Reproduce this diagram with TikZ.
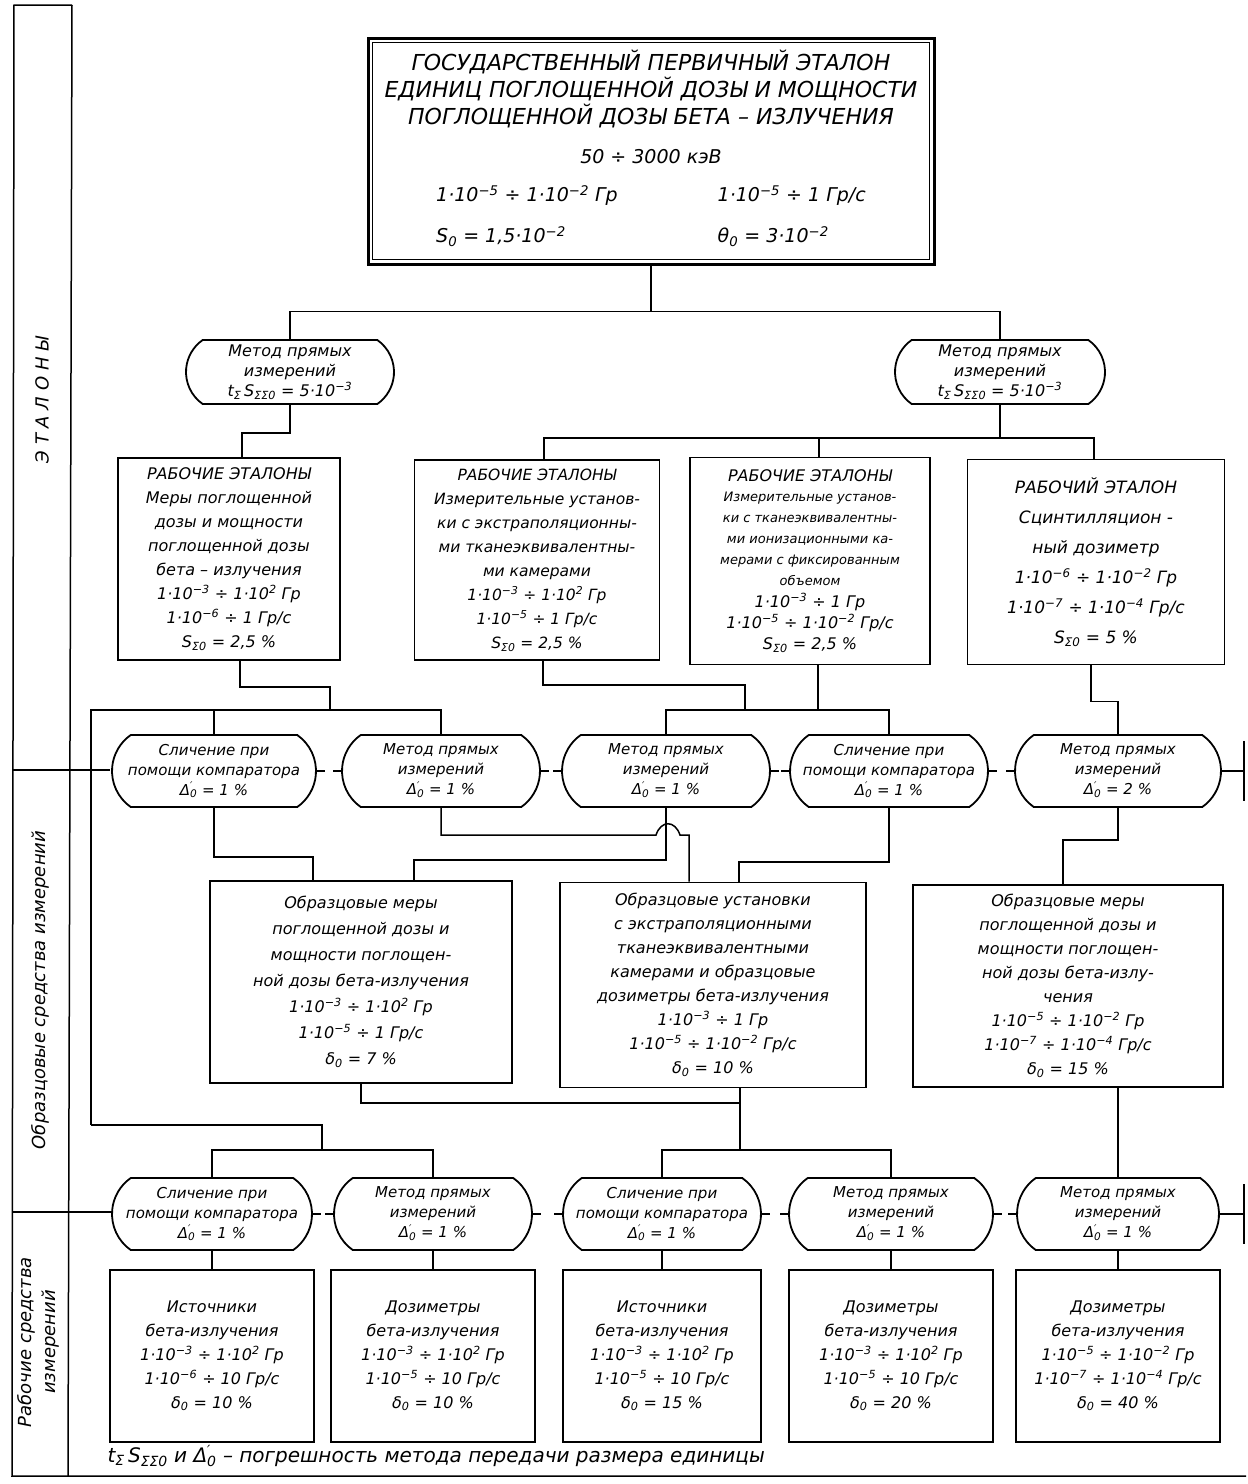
\documentclass[tikz,border=0pt]{standalone}
\usepackage{fontspec}
\setmainfont{DejaVu Sans}
\usetikzlibrary{shapes.misc}
\usetikzlibrary{positioning}

\newcommand{\dg}[1]{10\textsuperscript{#1}}
\newcommand{\sps}[3]{#1\rlap{\textsuperscript{#2}}\textsubscript{#3}}
\newcommand{\dlt}{\sps{Δ}{′}{0}}
\newcommand{\sz}{S\textsubscript{Σ0}}
\newcommand{\sm}{\fontsize{13}{16}\selectfont}
\newcommand{\vl}{\fontsize{19}{33}\selectfont}

\tikzset{
  box/.style={shape=rectangle, draw, line width=1.8pt, align=center, fill=white,
    font=\fontsize{16}{24}\selectfont\itshape},
  meth/.style={shape=rounded rectangle, rounded rectangle arc length=110, draw,
    line width=1.8pt, align=center, fill=white, inner sep=1pt, minimum height=72pt,
    font=\fontsize{15}{20}\selectfont\itshape},
  link/.style={line width=1.5pt},
  side/.style={rotate=90, align=center, font=\fontsize{18}{24}\selectfont\itshape}
}

\begin{document}
\begin{tikzpicture}[x=1pt, y=-1pt]
\useasboundingbox (0,0) rectangle (1248,1484);

% side band
\draw[link] (72,5) -- (14,5) -- (12,1476) -- (1246,1476);
\draw[link] (72,5) -- (68,1476);
\draw[link] (12,770) -- (110,770);
\draw[link] (12,1212) -- (112,1212);
\node[side] at (42,400) {Э Т А Л О Н Ы};
\node[side] at (40,990) {Образцовые средства измерений};
\node[side] at (38,1342) {Рабочие средства\\измерений};

% primary standard
\node[box, line width=3pt, minimum width=566pt, minimum height=226pt,
      font=\fontsize{22}{27}\selectfont\itshape] (gpe) at (651,151)
  {ГОСУДАРСТВЕННЫЙ ПЕРВИЧНЫЙ ЭТАЛОН\\
   ЕДИНИЦ ПОГЛОЩЕННОЙ ДОЗЫ И МОЩНОСТИ\\
   ПОГЛОЩЕННОЙ ДОЗЫ БЕТА – ИЗЛУЧЕНИЯ\\[12pt]
   \vl 50 ÷ 3000 кэВ\\[14pt]
   \vl\begin{tabular}{@{}l@{\hspace{100pt}}l@{}}
   1·\dg{−5} ÷ 1·\dg{−2} Гр & 1·\dg{−5} ÷ 1 Гр/с\\[8pt]
   S\textsubscript{0} = 1,5·\dg{−2} & θ\textsubscript{0} = 3·\dg{−2}
   \end{tabular}};
\draw[line width=1pt] ([shift={(6,6)}]gpe.north west) rectangle ([shift={(-6,-6)}]gpe.south east);

% methods, first row
\node[meth, minimum width=210pt, minimum height=64pt, font=\fontsize{16}{20}\selectfont\itshape] (m1) at (290,372)
  {Метод прямых\\измерений\\t\textsubscript{Σ}\,S\textsubscript{ΣΣ0} = 5·\dg{−3}};
\node[meth, minimum width=212pt, minimum height=64pt, font=\fontsize{16}{20}\selectfont\itshape] (m2) at (1000,372)
  {Метод прямых\\измерений\\t\textsubscript{Σ}\,S\textsubscript{ΣΣ0} = 5·\dg{−3}};

% working standards
\node[box, minimum width=222pt, minimum height=202pt] (ws1) at (229,559)
  {РАБОЧИЕ ЭТАЛОНЫ\\Меры поглощенной\\дозы и мощности\\поглощенной дозы\\бета – излучения\\
   1·\dg{−3} ÷ 1·\dg{2} Гр\\1·\dg{−6} ÷ 1 Гр/с\\\sz{} = 2,5 \%};
\node[box, minimum width=245pt, minimum height=200pt,
      font=\fontsize{15.5}{24}\selectfont\itshape] (ws2) at (537,560)
  {РАБОЧИЕ ЭТАЛОНЫ\\Измерительные установ-\\ки с экстраполяционны-\\ми тканеэквивалентны-\\ми камерами\\
   1·\dg{−3} ÷ 1·\dg{2} Гр\\1·\dg{−5} ÷ 1 Гр/с\\\sz{} = 2,5 \%};
\node[box, minimum width=240pt, minimum height=207pt,
      font=\fontsize{16}{21}\selectfont\itshape] (ws3) at (810,561)
  {РАБОЧИЕ ЭТАЛОНЫ\\[-1pt]\sm Измерительные установ-\\\sm ки с тканеэквивалентны-\\
   \sm ми ионизационными ка-\\\sm мерами с фиксированным\\\sm объемом\\[1pt]
   1·\dg{−3} ÷ 1 Гр\\1·\dg{−5} ÷ 1·\dg{−2} Гр/с\\\sz{} = 2,5 \%};
\node[box, minimum width=257pt, minimum height=205pt,
      font=\fontsize{17}{30}\selectfont\itshape] (ws4) at (1096,562)
  {РАБОЧИЙ ЭТАЛОН\\Сцинтилляцион -\\ный дозиметр\\1·\dg{−6} ÷ 1·\dg{−2} Гр\\
   1·\dg{−7} ÷ 1·\dg{−4} Гр/с\\\sz{} = 5 \%};

% methods, second row
\node[meth, minimum width=206pt] (o1) at (214,771) {Сличение при\\помощи компаратора\\\dlt{} = 1 \%};
\node[meth, minimum width=200pt] (o2) at (441,771) {Метод прямых\\измерений\\\dlt{} = 1 \%};
\node[meth, minimum width=210pt] (o3) at (666,771) {Метод прямых\\измерений\\\dlt{} = 1 \%};
\node[meth, minimum width=200pt] (o4) at (889,771) {Сличение при\\помощи компаратора\\\dlt{} = 1 \%};
\node[meth, minimum width=208pt] (o5) at (1118,771) {Метод прямых\\измерений\\\dlt{} = 2 \%};

% secondary standards
\node[box, minimum width=302pt, minimum height=202pt,
      font=\fontsize{16}{26}\selectfont\itshape] (mb1) at (361,982)
  {Образцовые меры\\поглощенной дозы и\\мощности поглощен-\\ной дозы бета-излучения\\
   1·\dg{−3} ÷ 1·\dg{2} Гр\\1·\dg{−5} ÷ 1 Гр/с\\δ\textsubscript{0} = 7 \%};
\node[box, minimum width=306pt, minimum height=205pt] (mb2) at (713,985)
  {Образцовые установки\\с экстраполяционными\\тканеэквивалентными\\камерами и образцовые\\дозиметры бета-излучения\\
   1·\dg{−3} ÷ 1 Гр\\1·\dg{−5} ÷ 1·\dg{−2} Гр/с\\δ\textsubscript{0} = 10 \%};
\node[box, minimum width=310pt, minimum height=202pt] (mb3) at (1068,986)
  {Образцовые меры\\поглощенной дозы и\\мощности поглощен-\\ной дозы бета-излу-\\чения\\
   1·\dg{−5} ÷ 1·\dg{−2} Гр\\1·\dg{−7} ÷ 1·\dg{−4} Гр/с\\δ\textsubscript{0} = 15 \%};

% methods, third row
\node[meth, minimum width=202pt] (p1) at (212,1214) {Сличение при\\помощи компаратора\\\dlt{} = 1 \%};
\node[meth, minimum width=200pt] (p2) at (433,1214) {Метод прямых\\измерений\\\dlt{} = 1 \%};
\node[meth, minimum width=200pt] (p3) at (662,1214) {Сличение при\\помощи компаратора\\\dlt{} = 1 \%};
\node[meth, minimum width=206pt] (p4) at (891,1214) {Метод прямых\\измерений\\\dlt{} = 1 \%};
\node[meth, minimum width=204pt] (p5) at (1118,1214) {Метод прямых\\измерений\\\dlt{} = 1 \%};

% working instruments
\tikzset{every node/.append style={font=\fontsize{15.5}{31}\selectfont\itshape}}
\node[box, minimum width=204pt, minimum height=172pt, below=18pt of p1] (b1)
  {Источники\\бета-излучения\\1·\dg{−3} ÷ 1·\dg{2} Гр\\1·\dg{−6} ÷ 10 Гр/с\\δ\textsubscript{0} = 10 \%};
\node[box, minimum width=204pt, minimum height=172pt, below=18pt of p2] (b2)
  {Дозиметры\\бета-излучения\\1·\dg{−3} ÷ 1·\dg{2} Гр\\1·\dg{−5} ÷ 10 Гр/с\\δ\textsubscript{0} = 10 \%};
\node[box, minimum width=198pt, minimum height=172pt, below=18pt of p3] (b3)
  {Источники\\бета-излучения\\1·\dg{−3} ÷ 1·\dg{2} Гр\\1·\dg{−5} ÷ 10 Гр/с\\δ\textsubscript{0} = 15 \%};
\node[box, minimum width=204pt, minimum height=172pt, below=18pt of p4] (b4)
  {Дозиметры\\бета-излучения\\1·\dg{−3} ÷ 1·\dg{2} Гр\\1·\dg{−5} ÷ 10 Гр/с\\δ\textsubscript{0} = 20 \%};
\node[box, minimum width=204pt, minimum height=172pt, below=18pt of p5] (b5)
  {Дозиметры\\бета-излучения\\1·\dg{−5} ÷ 1·\dg{−2} Гр\\1·\dg{−7} ÷ 1·\dg{−4} Гр/с\\δ\textsubscript{0} = 40 \%};

\node[anchor=west, font=\fontsize{20}{24}\selectfont\itshape] (note) at (104,1456)
  {t\textsubscript{Σ}\,S\textsubscript{ΣΣ0} и \dlt{} – погрешность метода передачи размера единицы};

% connectors
\draw[link] (gpe.south) -- ++(0,46) -| (m1.north);
\draw[link] (gpe.south) ++(0,46) -| (m2.north);
\draw[link] (m1.south) -- ++(0,28) -| ([xshift=13pt]ws1.north);
\draw[link] (m2.south) -- ++(0,33) coordinate (t2);
\draw[link] ([xshift=7pt]ws2.north) |- (t2) -| ([xshift=-2pt]ws4.north);
\draw[link] (t2) -| ([xshift=9pt]ws3.north);

\draw[link] ([xshift=11pt]ws1.south) |- (330,687) -- (330,710);
\draw[link] (91,1125) -- (91,710) -| (o2.north);
\draw[link] (o1.north) -- (o1.north |- 0,710);
\draw[link] ([xshift=6pt]ws2.south) |- (745,685) -- (745,710);
\draw[link] (o3.north) |- ([xshift=8pt]ws3.south |- 0,710) -| (o4.north);
\draw[link] ([xshift=8pt]ws3.south) -- ++(0,44);
\draw[link] ([xshift=-5pt]ws4.south) -- ++(0,36) -| (o5.north);

\draw[link] (o1.south) |- (313,857) -- (mb1.north -| 313,0);
\draw[link] (o3.south) |- (414,860) -- (mb1.north -| 414,0);
\draw[link] (o2.south) |- (656,835) .. controls (661,820) and (675,820) .. (680,835)
   -| (mb2.north -| 689,0);
\draw[link] (o4.south) |- (739,862) -- (mb2.north -| 739,0);
\draw[link] (o5.south) |- (1063,840) -- (mb3.north -| 1063,0);

\draw[link] (mb1.south) |- (740,1103);
\draw[link] (mb2.south -| 740,0) -- (740,1150) coordinate (t4);
\draw[link] (p3.north) |- (t4) -| (p4.north);
\draw[link] (91,1125) -| (322,1150);
\draw[link] (p1.north) |- (322,1150) -| (p2.north);
\draw[link] (p5.north) -- (p5.north |- mb3.south);

\foreach \k in {1,...,5}
  \draw[link] (p\k.south) -- (b\k.north);

% row dividers between methods
\draw[link] (o1.east) -- ++(8,0);  \draw[link] (o2.west) -- ++(-8,0);
\draw[link] (o2.east) -- ++(8,0);  \draw[link] (o3.west) -- ++(-8,0);
\draw[link] (o3.east) -- ++(8,0);  \draw[link] (o4.west) -- ++(-8,0);
\draw[link] (o4.east) -- ++(8,0);  \draw[link] (o5.west) -- ++(-8,0);
\draw[link] (o5.east) -- (1244,771);  \draw[link] (1244,741) -- (1244,801);
\draw[link] (p1.east) -- ++(8,0);  \draw[link] (p2.west) -- ++(-8,0);
\draw[link] (p2.east) -- ++(8,0);  \draw[link] (p3.west) -- ++(-8,0);
\draw[link] (p3.east) -- ++(8,0);  \draw[link] (p4.west) -- ++(-8,0);
\draw[link] (p4.east) -- ++(8,0);  \draw[link] (p5.west) -- ++(-8,0);
\draw[link] (p5.east) -- (1244,1214);  \draw[link] (1244,1184) -- (1244,1244);
\end{tikzpicture}
\end{document}
